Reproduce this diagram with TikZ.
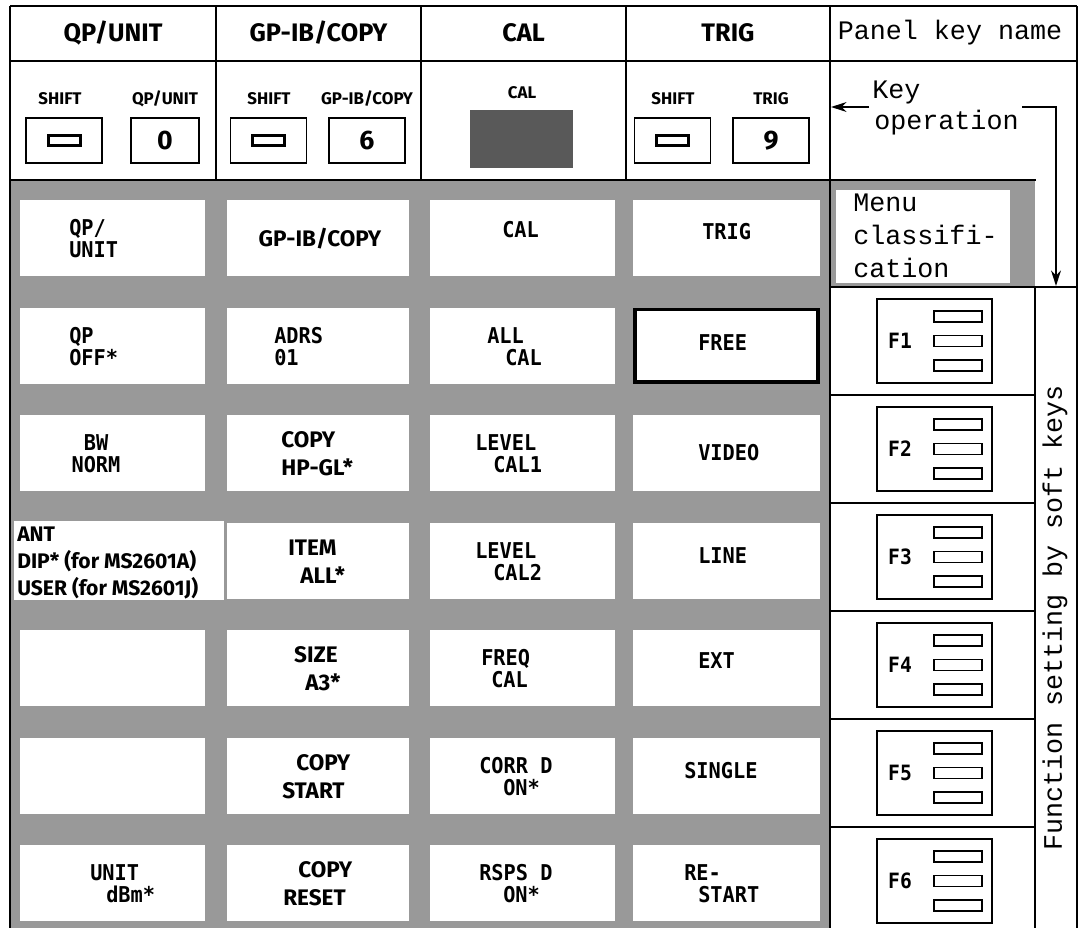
\documentclass[tikz,border=0pt]{standalone}
\usepackage{fontspec}
\setmainfont{Fira Sans}
\newfontfamily\optf{Fira Sans}
\newfontfamily\lcdf[FakeStretch=0.93]{DejaVu Sans Mono}
\newfontfamily\crf{Liberation Mono}
\usetikzlibrary{arrows.meta}
\definecolor{ht}{gray}{0.6}
\definecolor{htd}{gray}{0.35}
\begin{document}
\begin{tikzpicture}[x=0.025cm,y=-0.025cm,
  fl/.style={line width=1.6pt},
  kbox/.style={draw, line width=1.3pt, fill=white, minimum height=1.125cm, inner sep=0},
  srect/.style={draw, line width=2pt, minimum width=0.8cm, minimum height=0.25cm, inner sep=0},
  lcd/.style={font=\lcdf\bfseries\fontsize{15.5}{19}\selectfont, inner sep=0, anchor=base west},
  opt/.style={font=\optf\bfseries\fontsize{16}{19}\selectfont, inner sep=0, anchor=base west},
  ant/.style={font=\optf\bfseries\fontsize{15}{18}\selectfont, inner sep=0, anchor=base west},
  hdr/.style={font=\optf\bfseries\fontsize{18}{21}\selectfont, inner sep=0},
  klab/.style={font=\optf\bfseries\fontsize{12}{14}\selectfont, inner sep=0},
  kdig/.style={font=\optf\bfseries\fontsize{19}{22}\selectfont},
  cour/.style={font=\crf\fontsize{19}{22}\selectfont, inner sep=0},
  fkbox/.style={draw, line width=1.3pt, minimum width=2.875cm, minimum height=2.1cm, inner sep=0},
  frect/.style={draw, line width=1.3pt, minimum width=1.2cm, minimum height=0.275cm, inner sep=0},
  arr/.style={line width=1.4pt, -{Stealth[length=11pt,width=7pt]}}
]
\useasboundingbox (0,0) rectangle (1080,928);
\fill[white] (0,0) rectangle (1080,928);
% shaded menu area
\fill[ht] (10,180) rectangle (830,928);
\fill[ht] (830,180) rectangle (1035,287);
\fill[white] (836,190) rectangle (1010,283);
\foreach \r in {0,...,6} {
  \foreach \a/\b in {20/205,227/409,430/615,633/820} {
    \fill[white] (\a,{200+107.5*\r}) rectangle (\b,{276+107.5*\r});
  }
}
\fill[white] (14,521) rectangle (224,600);
\draw[line width=2.4pt] (635,309.5) rectangle (818,382);

% frame lines
\draw[fl] (10,6) -- (1077,6);
\draw[fl] (10,6) -- (10,928);
\draw[fl] (1077,6) -- (1077,928);
\draw[fl] (10,61) -- (1077,61);
\draw[fl] (10,180) -- (1036,180);
\foreach \x in {216,421,626} \draw[fl] (\x,6) -- (\x,180);
\draw[fl] (830,6) -- (830,928);
\draw[fl] (1035,287) -- (1035,928);
\draw[fl] (830,287) -- (1077,287);
\foreach \y in {395,503,611,719,827} \draw[fl] (830,\y) -- (1035,\y);

% headers
\node[hdr] (h1) at (113,33) {QP/UNIT};
\node[hdr] (h2) at (318.5,33) {GP-IB/COPY};
\node[hdr] (h3) at (523.5,33) {CAL};
\node[hdr] (h4) at (728,33) {TRIG};
\node[cour] (h5) at (950,33) {Panel key name};

% key operation row
\node[klab] (l1a) at (60,99) {SHIFT};
\node[klab] (l1b) at (165,99) {QP/UNIT};
\node[klab] (l2a) at (269,99) {SHIFT};
\node[klab] (l2b) at (367,99) {GP-IB/COPY};
\node[klab] (l3) at (522,93) {CAL};
\node[klab] (l4a) at (673,99) {SHIFT};
\node[klab] (l4b) at (771,99) {TRIG};

\node[kbox, minimum width=1.9cm] (s1) at (64,140.5) {};
\node[srect] (s1i) at (64.5,140.5) {};
\node[kbox, minimum width=1.7cm, kdig] (k1) at (165,140.5) {0};
\node[kbox, minimum width=1.9cm] (s2) at (268.5,140.5) {};
\node[srect] (s2i) at (268.5,140.5) {};
\node[kbox, minimum width=1.9cm, kdig] (k2) at (367,140.5) {6};
\fill[htd] (470,110) rectangle (573,168);
\node[kbox, minimum width=1.9cm] (s4) at (672.5,140.5) {};
\node[srect] (s4i) at (672.5,140.5) {};
\node[kbox, minimum width=1.9cm, kdig] (k4) at (771,140.5) {9};

% key operation annotation
\node[cour, anchor=base west] (kk) at (872,98) {Key};
\node[cour, anchor=base west] (ko) at (874,129) {operation};
\coordinate (aS) at (869,107);
\coordinate (aT) at (831,107);
\draw[arr] (aS) -- (aT);
\coordinate (b1) at (1022,107);
\coordinate (b2) at (1056,107);
\coordinate (b3) at (1056,286);
\draw[arr] (b1) -- (b2) -- (b3);

% menu classification
\node[cour, anchor=base west] (m1) at (853,211) {Menu};
\node[cour, anchor=base west] (m2) at (853,244) {classifi-};
\node[cour, anchor=base west] (m3) at (853,277) {cation};

% vertical label
\node[cour, rotate=90] (fs) at (1055,618) {Function setting by soft keys};

% soft keys
\foreach \i in {1,...,6} {
  \pgfmathsetmacro\T{287+108*(\i-1)}
  \node[fkbox] (F\i) at (934.5,{\T+54}) {};
  \node[lcd, anchor=center, font=\lcdf\bfseries\fontsize{15}{18}\selectfont] (fl\i) at (900,{\T+54}) {F\i};
  \foreach \d/\n in {-24.5/a,0/b,24.5/c} {
    \node[frect] (fr\i\n) at (958,{\T+54+\d}) {};
  }
}

% menu cells
\node[lcd] (t00a) at (69,235) {QP/};
\node[lcd] (t00b) at (69,257) {UNIT};
\node[opt, anchor=base] (t01) at (320,246) {GP-IB/COPY};
\node[lcd] (t02) at (502,237) {CAL};
\node[lcd] (t03) at (702,239) {TRIG};

\node[lcd] (t10a) at (69,343) {QP};
\node[lcd] (t10b) at (69,365) {OFF*};
\node[lcd] (t11a) at (274,343) {ADRS};
\node[lcd] (t11b) at (274,365) {01};
\node[lcd] (t12a) at (487,343) {ALL};
\node[lcd] (t12b) at (505,365) {CAL};
\node[lcd] (t13) at (698,350) {FREE};

\node[lcd, anchor=base] (t20a) at (96,450) {BW};
\node[lcd, anchor=base] (t20b) at (96,472) {NORM};
\node[opt] (t21a) at (281,447) {COPY};
\node[opt] (t21b) at (281,475) {HP-GL*};
\node[lcd] (t22a) at (475,450) {LEVEL};
\node[lcd] (t22b) at (493,472) {CAL1};
\node[lcd] (t23) at (698,460) {VIDEO};

\node[ant] (t30a) at (17,541) {ANT};
\node[ant] (t30b) at (17,568) {DIP* (for MS2601A)};
\node[ant] (t30c) at (17,595) {USER (for MS2601J)};
\node[opt] (t31a) at (288,555) {ITEM};
\node[opt] (t31b) at (300,583) {ALL*};
\node[lcd] (t32a) at (475,558) {LEVEL};
\node[lcd] (t32b) at (493,580) {CAL2};
\node[lcd] (t33) at (698,563) {LINE};

\node[opt, anchor=base] (t41a) at (316,662) {SIZE};
\node[opt] (t41b) at (305,690) {A3*};
\node[lcd] (t42a) at (481,665) {FREQ};
\node[lcd] (t42b) at (491,687) {CAL};
\node[lcd] (t43) at (698,668) {EXT};

\node[opt] (t51a) at (296,770) {COPY};
\node[opt] (t51b) at (282,798) {START};
\node[lcd] (t52a) at (479,773) {CORR D};
\node[lcd] (t52b) at (503,795) {ON*};
\node[lcd] (t53) at (684,778) {SINGLE};

\node[lcd] (t60a) at (90,880) {UNIT};
\node[lcd] (t60b) at (106,902) {dBm*};
\node[opt] (t61a) at (298,877) {COPY};
\node[opt] (t61b) at (283,905) {RESET};
\node[lcd] (t62a) at (479,880) {RSPS D};
\node[lcd] (t62b) at (503,902) {ON*};
\node[lcd] (t63a) at (684,880) {RE-};
\node[lcd] (t63b) at (698,902) {START};
\end{tikzpicture}
\end{document}
